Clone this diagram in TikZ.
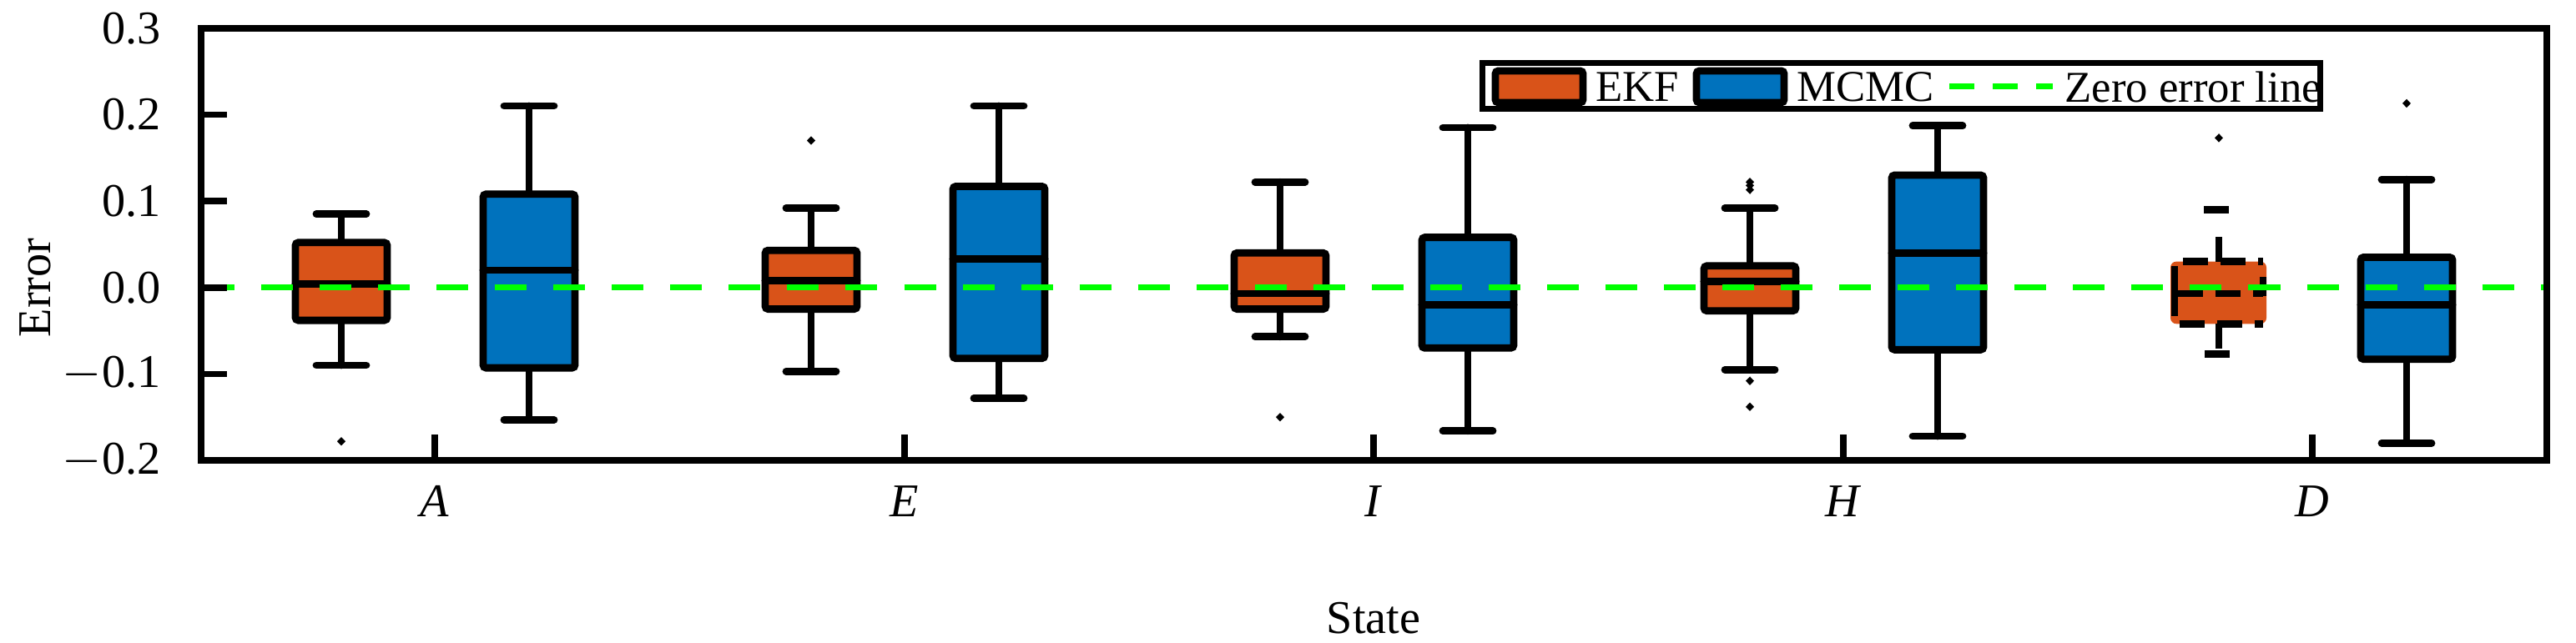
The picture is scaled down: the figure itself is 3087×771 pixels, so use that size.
\documentclass[tikz,border=0pt]{standalone}
\usepackage{fontspec}
\setmainfont{Liberation Serif}
\usetikzlibrary{positioning}
\definecolor{ekf}{HTML}{D95319}
\definecolor{mcmc}{HTML}{0072BD}
\definecolor{zero}{HTML}{00FF00}

\begin{document}
\begin{tikzpicture}[x=0.01cm,y=0.01cm,font=\fontsize{16}{19}\selectfont,
  box/.style={draw=black,line width=2.5pt,rounded corners=1pt},
  whisk/.style={line width=2.5pt,line cap=round},
  zero line/.style={draw=zero,line width=2pt,dash pattern=on 0.38cm off 0.32cm},
  outl/.style={fill=black,draw=none}]
\useasboundingbox (0,0) rectangle (3087,771);

% data part: x in px, y in error units
\begin{scope}[yshift=4.26cm,y=10.36cm]
  % centre/q1/median/q3/low/high/colour
  \foreach \c/\qa/\m/\qb/\lo/\hi/\col in {
      409/-0.038/0.004/0.052/-0.09/0.085/ekf,
      634/-0.093/0.02/0.108/-0.153/0.21/mcmc,
      972/-0.025/0.008/0.043/-0.097/0.092/ekf,
      1197/-0.082/0.033/0.117/-0.128/0.21/mcmc,
      1534/-0.025/-0.007/0.04/-0.057/0.122/ekf,
      1759/-0.07/-0.02/0.058/-0.166/0.185/mcmc,
      2097/-0.027/0.007/0.025/-0.095/0.092/ekf,
      2322/-0.072/0.04/0.13/-0.172/0.187/mcmc,
      2884/-0.083/-0.02/0.035/-0.18/0.125/mcmc}{
    \draw[whisk] (\c,\qb) -- (\c,\hi) (\c-30,\hi) -- (\c+30,\hi);
    \draw[whisk] (\c,\qa) -- (\c,\lo) (\c-30,\lo) -- (\c+30,\lo);
    \filldraw[box,fill=\col] (\c-55,\qa) rectangle (\c+55,\qb);
    \draw[whisk] (\c-55,\m) -- (\c+55,\m);
  }
  % the dashed EKF box at D
  \fill[ekf,rounded corners=2pt] (2601,-0.042) rectangle (2716,0.03);
  \begin{scope}[line width=2.5pt,dash pattern=on 0.3cm off 0.15cm]
    \draw (2606,-0.004) -- (2606,0.03) -- (2712,0.03);
    \draw (2606,-0.004) -- (2606,-0.042) -- (2712,-0.042);
    \draw (2712,0.012) -- (2712,-0.01);
    \draw (2610,-0.007) -- (2712,-0.007);
    \draw (2659,0.03) -- (2659,0.062);
    \draw (2659,-0.042) -- (2659,-0.077) (2642,-0.077) -- (2676,-0.077);
    \draw (2641,0.09) -- (2677,0.09);
  \end{scope}
  % outliers
  \foreach \x/\v in {409/-0.178, 972/0.17, 1534/-0.15, 2097/0.122, 2097/0.118,
      2097/0.113, 2097/-0.108, 2097/-0.138, 2659/0.173, 2884/0.213}{
    \fill[outl] (\x-5,\v) -- (\x,\v+0.005) -- (\x+5,\v) -- (\x,\v-0.005) -- cycle;
  }
  % zero error line
  \draw[zero line] (243,0) -- (3050,0);
  % axes
  \draw[line width=2.2pt] (241,-0.2) rectangle (3052,0.3);
  \foreach \v/\t [count=\i] in {0.3/0.3,0.2/0.2,0.1/0.1,0/0.0,-0.1/$-$0.1,-0.2/$-$0.2}{
    \node[anchor=east] (yt\i) at (205,\v) {\t};
  }
  \foreach \v in {0.2,0.1,0,-0.1}{
    \draw[line width=2.2pt] (241,\v) -- (272,\v);
  }
  \foreach \x/\s in {521/A,1084/E,1646/I,2209/H,2771/D}{
    \draw[line width=2.2pt] (\x,-0.2) -- (\x,-0.17);
    \node (xt\s) at (\x,-0.247) {\textit{\s}};
  }
\end{scope}

\node[rotate=90] (ylab) at (42,426) {Error};
\node (xlab) at (1646,30) {State};

% legend
\draw[line width=2pt,fill=white] (1776,640) rectangle (2780,695);
\filldraw[box,fill=ekf] (1792,648) rectangle (1897,686);
\node[anchor=west,font=\fontsize{15}{18}\selectfont] (lekf) at (1900,667) {EKF};
\filldraw[box,fill=mcmc] (2033,648) rectangle (2138,686);
\node[anchor=west,font=\fontsize{15}{18}\selectfont] (lmcmc) at (2141,667) {MCMC};
\draw[zero line,dash pattern=on 0.3cm off 0.22cm] (2336,667) -- (2460,667);
\node[anchor=west,font=\fontsize{15}{18}\selectfont] (lzero) at (2462,667) {Zero error line};
\end{tikzpicture}
\end{document}
